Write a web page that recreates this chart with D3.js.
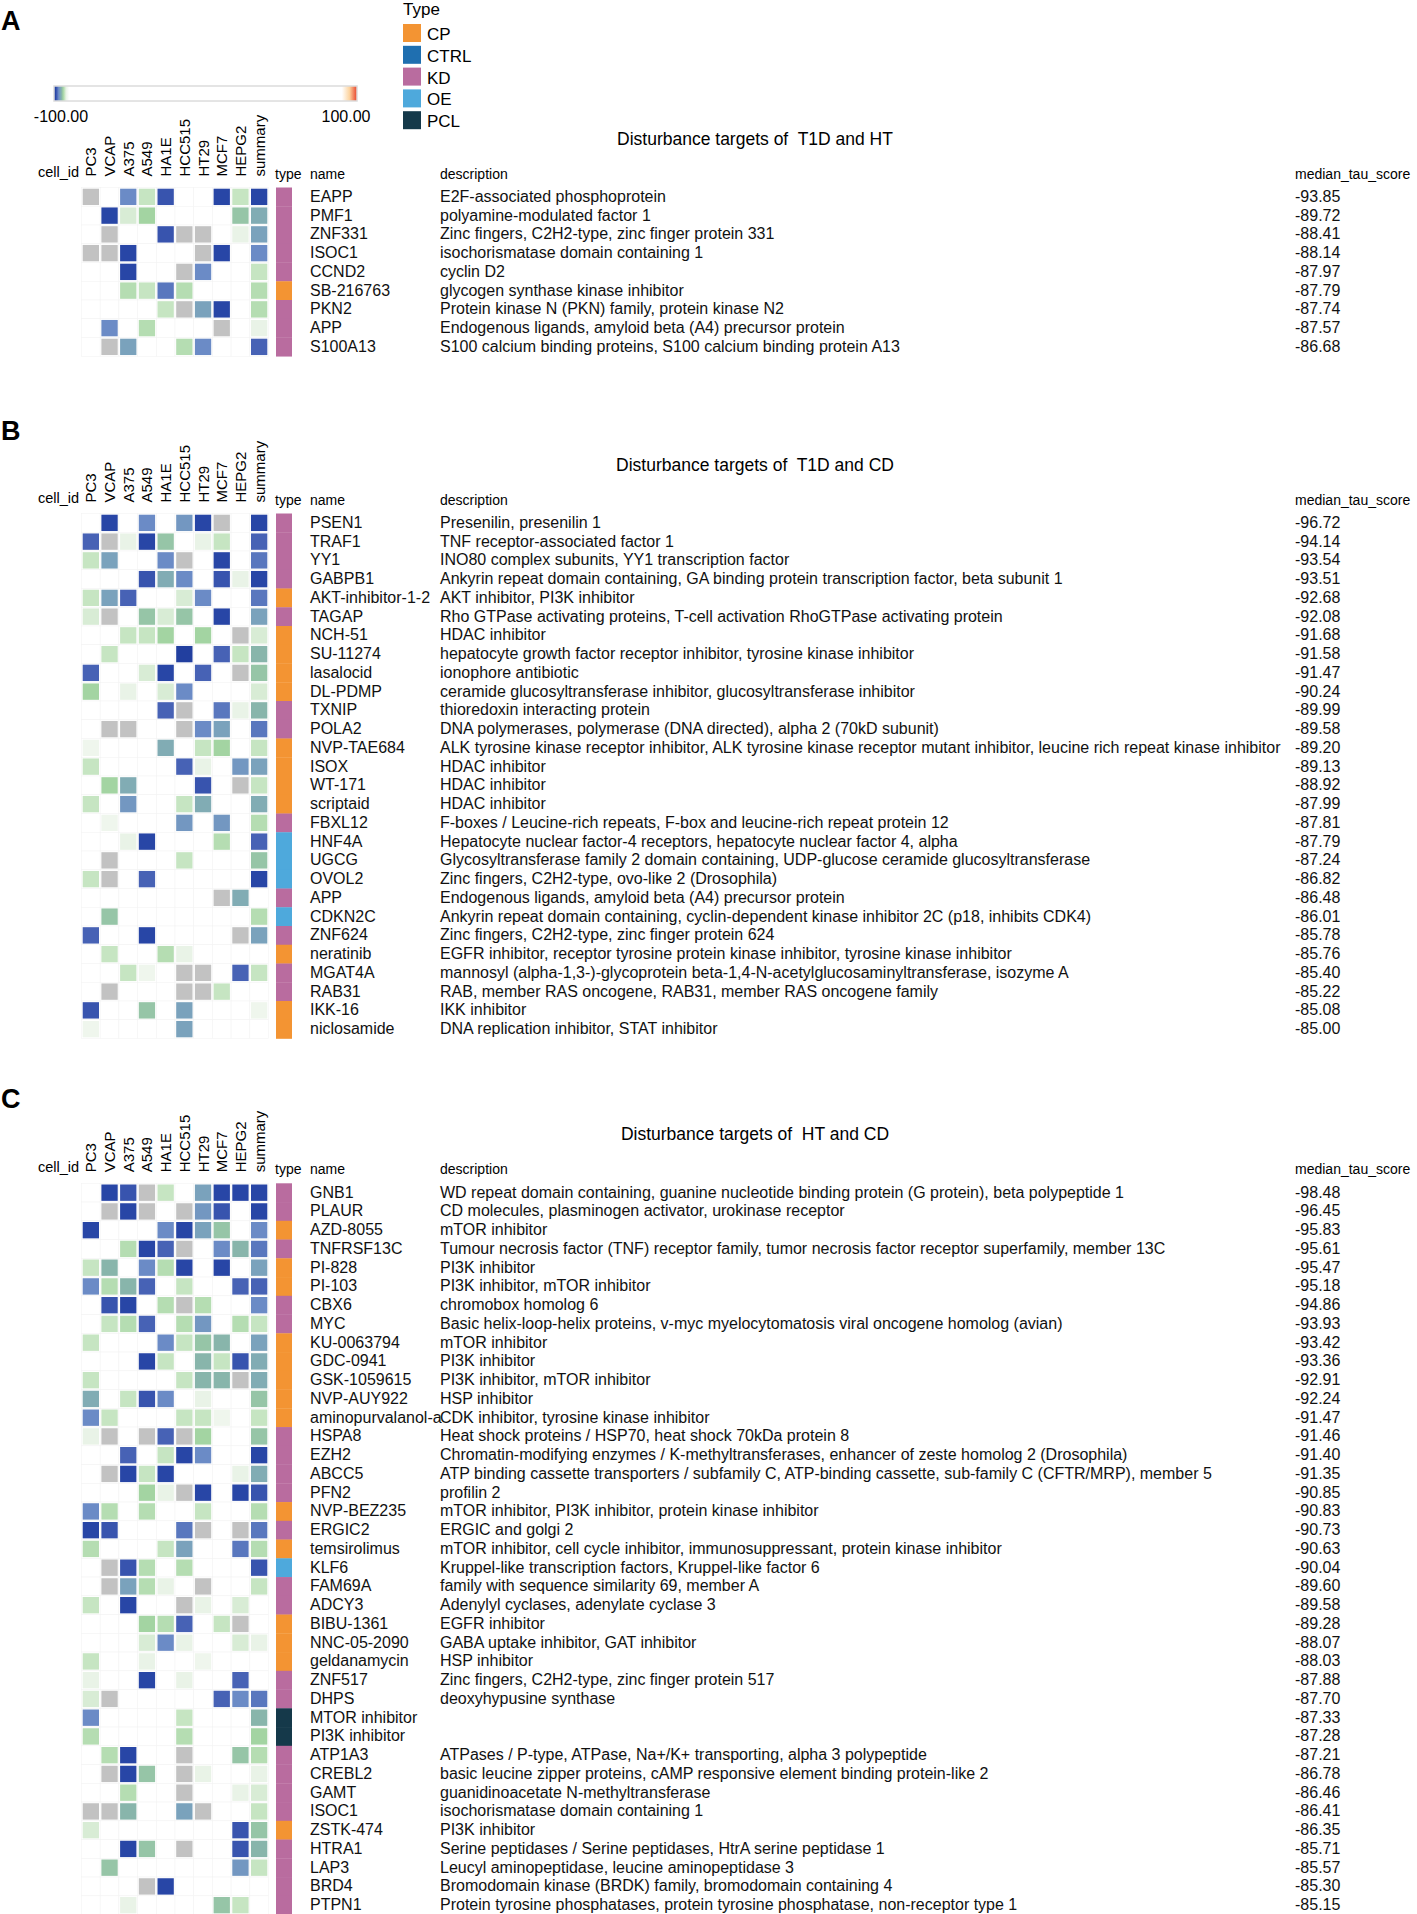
<!DOCTYPE html>
<html lang="en">
<head>
<meta charset="UTF-8">
<title>Disturbance targets</title>
<script src="https://d3js.org/d3.v7.min.js"></script>
<style>
  body { margin: 0; background: #fff; }
  svg { display: block; font-family: Arial, "Liberation Sans", sans-serif; }
  .title { white-space: pre; }
</style>
</head>
<body>
<div id="chart"></div>
<script>
// ---- data ----
const X = NaN;   // grey cell (no score)
const _ = null;  // empty cell

const cellLines = ["PC3", "VCAP", "A375", "A549", "HA1E", "HCC515", "HT29", "MCF7", "HEPG2", "summary"];
const typeNames = ["CP", "CTRL", "KD", "OE", "PCL"];
const typeColors = ["#f39433", "#1f6fb0", "#b96c9f", "#4ea9dc", "#15394a"];
const barTicks = [-100, 100];

// panel A : T1D and HT
const namesA = ["EAPP", "PMF1", "ZNF331", "ISOC1", "CCND2", "SB-216763", "PKN2", "APP", "S100A13"];
const typesA = ["KD", "KD", "KD", "KD", "KD", "CP", "KD", "KD", "KD"];
const descA = [
  "E2F-associated phosphoprotein",
  "polyamine-modulated factor 1",
  "Zinc fingers, C2H2-type, zinc finger protein 331",
  "isochorismatase domain containing 1",
  "cyclin D2",
  "glycogen synthase kinase inhibitor",
  "Protein kinase N (PKN) family, protein kinase N2",
  "Endogenous ligands, amyloid beta (A4) precursor protein",
  "S100 calcium binding proteins, S100 calcium binding protein A13"
];
const scoresA = [-93.85, -89.72, -88.41, -88.14, -87.97, -87.79, -87.74, -87.57, -86.68];
const cellsA = [
  [X, _, -97, -93, -98.5, _, _, -99, -93, -99],
  [_, -99, -92.5, -94, _, _, _, _, -94.5, -95.5],
  [_, X, _, _, -98.5, X, X, _, -92, -96],
  [X, X, -99, _, _, _, X, -99, _, -97],
  [_, _, -99, _, _, X, -97, _, _, -93],
  [_, _, -93.5, -93, -97.5, -93.5, _, _, _, -93.5],
  [_, _, _, _, -93, X, -96, -99, _, -93.5],
  [_, -97, _, -93.5, _, _, _, X, _, -92],
  [_, X, -96, _, _, -93.5, -97, _, _, -98]
];

// panel B : T1D and CD
const namesB = ["PSEN1", "TRAF1", "YY1", "GABPB1", "AKT-inhibitor-1-2", "TAGAP", "NCH-51", "SU-11274", "lasalocid", "DL-PDMP",
  "TXNIP", "POLA2", "NVP-TAE684", "ISOX", "WT-171", "scriptaid", "FBXL12", "HNF4A", "UGCG", "OVOL2",
  "APP", "CDKN2C", "ZNF624", "neratinib", "MGAT4A", "RAB31", "IKK-16", "niclosamide"];
const typesB = ["KD", "KD", "KD", "KD", "CP", "KD", "CP", "CP", "CP", "CP",
  "KD", "KD", "CP", "CP", "CP", "CP", "KD", "OE", "OE", "OE",
  "KD", "OE", "KD", "CP", "KD", "KD", "CP", "CP"];
const descB = [
  "Presenilin, presenilin 1",
  "TNF receptor-associated factor 1",
  "INO80 complex subunits, YY1 transcription factor",
  "Ankyrin repeat domain containing, GA binding protein transcription factor, beta subunit 1",
  "AKT inhibitor, PI3K inhibitor",
  "Rho GTPase activating proteins, T-cell activation RhoGTPase activating protein",
  "HDAC inhibitor",
  "hepatocyte growth factor receptor inhibitor, tyrosine kinase inhibitor",
  "ionophore antibiotic",
  "ceramide glucosyltransferase inhibitor, glucosyltransferase inhibitor",
  "thioredoxin interacting protein",
  "DNA polymerases, polymerase (DNA directed), alpha 2 (70kD subunit)",
  "ALK tyrosine kinase receptor inhibitor, ALK tyrosine kinase receptor mutant inhibitor, leucine rich repeat kinase inhibitor",
  "HDAC inhibitor",
  "HDAC inhibitor",
  "HDAC inhibitor",
  "F-boxes / Leucine-rich repeats, F-box and leucine-rich repeat protein 12",
  "Hepatocyte nuclear factor-4 receptors, hepatocyte nuclear factor 4, alpha",
  "Glycosyltransferase family 2 domain containing, UDP-glucose ceramide glucosyltransferase",
  "Zinc fingers, C2H2-type, ovo-like 2 (Drosophila)",
  "Endogenous ligands, amyloid beta (A4) precursor protein",
  "Ankyrin repeat domain containing, cyclin-dependent kinase inhibitor 2C (p18, inhibits CDK4)",
  "Zinc fingers, C2H2-type, zinc finger protein 624",
  "EGFR inhibitor, receptor tyrosine protein kinase inhibitor, tyrosine kinase inhibitor",
  "mannosyl (alpha-1,3-)-glycoprotein beta-1,4-N-acetylglucosaminyltransferase, isozyme A",
  "RAB, member RAS oncogene, RAB31, member RAS oncogene family",
  "IKK inhibitor",
  "DNA replication inhibitor, STAT inhibitor"
];
const scoresB = [-96.72, -94.14, -93.54, -93.51, -92.68, -92.08, -91.68, -91.58, -91.47, -90.24,
  -89.99, -89.58, -89.20, -89.13, -88.92, -87.99, -87.81, -87.79, -87.24, -86.82,
  -86.48, -86.01, -85.78, -85.76, -85.40, -85.22, -85.08, -85.00];
const cellsB = [
  [_, -99, _, -97, _, -96.5, -99, X, _, -99],
  [-98, X, -92, -99, -94.5, _, -92, -93, _, -98],
  [-93, -96, _, _, -97, X, _, -99, _, -97.5],
  [_, _, _, -98.5, -95.5, -97, _, -98.5, -92, -99],
  [-93, -96, -98, _, _, -92.5, -97, _, _, -97.5],
  [-92.5, X, _, -94.5, -92.5, -94.5, _, -99, _, -96],
  [_, _, -93, -93, -94, _, -94, _, X, -92.5],
  [_, -93, _, _, _, -99.5, _, -98, -93, -95],
  [-98, _, _, -92.5, -99, _, -98, _, X, -94.5],
  [-94, _, -92, _, -92.5, -97, _, _, _, -92.5],
  [_, _, _, _, -98, X, _, -97.5, -92, -95],
  [_, X, X, _, _, X, -97, -96, _, -97.5],
  [-91.5, _, _, _, -95.5, _, -93, -94, _, -93],
  [-93, _, _, _, _, -98, -92, _, -96.5, -96],
  [_, -94, -95.5, _, _, _, -98.5, _, X, -93],
  [-93, _, -96.5, _, _, -93, -95.5, _, _, -95.5],
  [_, -91.5, _, _, _, -96.5, _, -96.5, _, -93.5],
  [_, _, -92, -99, _, _, _, -93.5, _, -98],
  [_, X, _, _, _, -93, _, _, _, -94.5],
  [-93, X, _, -98, _, _, _, _, _, -99],
  [_, _, _, _, _, _, _, X, -95.5, _],
  [_, -94.5, _, _, _, _, _, _, _, -93.5],
  [-98, _, _, -99, _, _, _, _, X, -96],
  [_, -93, _, _, -93.5, -92, _, _, _, _],
  [_, _, -93, -91.5, _, X, X, _, -98, -93],
  [_, X, _, _, _, X, X, -93, _, _],
  [-98.5, _, _, -94.5, _, -96, _, _, _, -91.5],
  [-91.5, _, _, _, _, -96, _, _, _, _]
];

// panel C : HT and CD
const namesC = ["GNB1", "PLAUR", "AZD-8055", "TNFRSF13C", "PI-828", "PI-103", "CBX6", "MYC", "KU-0063794", "GDC-0941",
  "GSK-1059615", "NVP-AUY922", "aminopurvalanol-a", "HSPA8", "EZH2", "ABCC5", "PFN2", "NVP-BEZ235", "ERGIC2", "temsirolimus",
  "KLF6", "FAM69A", "ADCY3", "BIBU-1361", "NNC-05-2090", "geldanamycin", "ZNF517", "DHPS", "MTOR inhibitor", "PI3K inhibitor",
  "ATP1A3", "CREBL2", "GAMT", "ISOC1", "ZSTK-474", "HTRA1", "LAP3", "BRD4", "PTPN1"];
const typesC = ["KD", "KD", "CP", "KD", "CP", "CP", "KD", "KD", "CP", "CP",
  "CP", "CP", "CP", "KD", "KD", "KD", "KD", "CP", "KD", "CP",
  "OE", "KD", "KD", "CP", "CP", "CP", "KD", "KD", "PCL", "PCL",
  "KD", "KD", "KD", "KD", "CP", "KD", "KD", "KD", "KD"];
const descC = [
  "WD repeat domain containing, guanine nucleotide binding protein (G protein), beta polypeptide 1",
  "CD molecules, plasminogen activator, urokinase receptor",
  "mTOR inhibitor",
  "Tumour necrosis factor (TNF) receptor family, tumor necrosis factor receptor superfamily, member 13C",
  "PI3K inhibitor",
  "PI3K inhibitor, mTOR inhibitor",
  "chromobox homolog 6",
  "Basic helix-loop-helix proteins, v-myc myelocytomatosis viral oncogene homolog (avian)",
  "mTOR inhibitor",
  "PI3K inhibitor",
  "PI3K inhibitor, mTOR inhibitor",
  "HSP inhibitor",
  "CDK inhibitor, tyrosine kinase inhibitor",
  "Heat shock proteins / HSP70, heat shock 70kDa protein 8",
  "Chromatin-modifying enzymes / K-methyltransferases, enhancer of zeste homolog 2 (Drosophila)",
  "ATP binding cassette transporters / subfamily C, ATP-binding cassette, sub-family C (CFTR/MRP), member 5",
  "profilin 2",
  "mTOR inhibitor, PI3K inhibitor, protein kinase inhibitor",
  "ERGIC and golgi 2",
  "mTOR inhibitor, cell cycle inhibitor, immunosuppressant, protein kinase inhibitor",
  "Kruppel-like transcription factors, Kruppel-like factor 6",
  "family with sequence similarity 69, member A",
  "Adenylyl cyclases, adenylate cyclase 3",
  "EGFR inhibitor",
  "GABA uptake inhibitor, GAT inhibitor",
  "HSP inhibitor",
  "Zinc fingers, C2H2-type, zinc finger protein 517",
  "deoxyhypusine synthase",
  "",
  "",
  "ATPases / P-type, ATPase, Na+/K+ transporting, alpha 3 polypeptide",
  "basic leucine zipper proteins, cAMP responsive element binding protein-like 2",
  "guanidinoacetate N-methyltransferase",
  "isochorismatase domain containing 1",
  "PI3K inhibitor",
  "Serine peptidases / Serine peptidases, HtrA serine peptidase 1",
  "Leucyl aminopeptidase, leucine aminopeptidase 3",
  "Bromodomain kinase (BRDK) family, bromodomain containing 4",
  "Protein tyrosine phosphatases, protein tyrosine phosphatase, non-receptor type 1"
];
const scoresC = [-98.48, -96.45, -95.83, -95.61, -95.47, -95.18, -94.86, -93.93, -93.42, -93.36,
  -92.91, -92.24, -91.47, -91.46, -91.40, -91.35, -90.85, -90.83, -90.73, -90.63,
  -90.04, -89.60, -89.58, -89.28, -88.07, -88.03, -87.88, -87.70, -87.33, -87.28,
  -87.21, -86.78, -86.46, -86.41, -86.35, -85.71, -85.57, -85.30, -85.15];
const cellsC = [
  [_, -99, -98.5, X, -93, _, -96, -99, -99, -99],
  [_, X, -99, X, _, X, -96.5, -98.5, _, -99],
  [-99, _, _, _, -97, -99, -96, -94.5, _, -97],
  [_, _, -93.5, -99, -98, X, _, -97, -95, -97.5],
  [-93, -95, _, -97, -93.5, -99, _, -99, _, -96],
  [-97, -93.5, -95, -98, _, -93, _, _, -98, -98],
  [_, -98.5, -99, _, -93.5, X, -93.5, _, _, -97],
  [_, -93, -93.5, -98, _, -93.5, -96.5, _, -93.5, -93],
  [-93, _, _, _, -97, -93, -94.5, -95, _, -96],
  [_, _, _, -99, -93, _, -95, -93, -98.5, -95.5],
  [-93, _, _, _, _, -93, -95, -95, X, -95.5],
  [-95.5, _, -93, -98.5, -97, _, -92, _, _, -94.5],
  [-97, -93, _, _, _, -93, -93, -91.5, _, -93],
  [-92, X, _, X, -98, X, -94, _, _, -94.5],
  [_, _, -98, _, -93, -99, -97, _, _, -99],
  [_, X, -99, -93, -99, _, _, _, -92, -95.5],
  [_, _, _, -94, -92, X, -99, _, -99, -98.5],
  [-97, -93.5, _, -93.5, _, _, -93, _, _, -93.5],
  [-99, -98.5, _, _, _, -97.5, X, _, X, -97.5],
  [-93.5, _, _, _, -93, -96, _, _, -97.5, -93.5],
  [_, X, -98.5, -93.5, _, -93.5, _, _, _, -98.5],
  [_, X, -96, -93.5, -92, _, X, _, _, -93],
  [-93, _, -99, _, _, X, -92, _, -92.5, _],
  [_, _, _, -94, -93.5, -98, _, -93, X, _],
  [_, _, _, -92.5, -97, -92, _, _, -92.5, -92],
  [-93, _, _, -92, _, _, -91.5, _, _, _],
  [-92, _, _, -99, _, -92, _, _, -98, _],
  [-92.5, X, _, _, _, _, _, -98, -97, -97.5],
  [-97, _, _, _, _, -93, _, _, _, -95],
  [-93.5, _, _, _, _, -93.5, _, _, _, -94],
  [_, -93.5, -99, _, _, X, _, _, -94.5, -93.5],
  [_, X, -99, -94.5, _, X, -92, _, _, -92],
  [_, _, -93.5, _, _, X, _, _, -92, -92.5],
  [X, X, -95, _, _, -96, X, _, _, -93],
  [-92.5, _, _, _, _, _, _, _, -98.5, -94.5],
  [_, _, -99, -94.5, _, X, _, _, -98.5, -95],
  [_, -94.5, _, _, _, _, _, _, -96.5, -93],
  [_, _, _, X, -99, _, _, _, _, _],
  [_, _, -92, _, _, _, _, -94.5, -93, _]
];

// ---- layout ----
const W = 1417, H = 1914;
const rowH = 18.75;
const nameX = 310, descX = 440, scoreX = 1295;
const typeX = 276, typeW = 16;

const svg = d3.select("#chart").append("svg")
  .attr("width", W)
  .attr("height", H);
svg.append("rect").attr("width", W).attr("height", H).attr("fill", "#fff");

// tau colour scale : blue -> green -> white ... orange -> red
const color = d3.scaleLinear()
  .domain([-100, -99, -98, -97, -96, -95, -94, -93, -92, -90, 90, 95, 100])
  .range(["#1c3897", "#2846a6", "#4762b5", "#6b8bc6", "#7aa2bc", "#88b5ab", "#a3d4a2", "#c6e5c2", "#e9f3e7", "#ffffff", "#ffffff", "#fdd4a0", "#e8412a"])
  .unknown("#c2c2c2");

const typeColor = d3.scaleOrdinal().domain(typeNames).range(typeColors);

const x = d3.scaleBand()
  .domain(cellLines)
  .range([81.5, 81.5 + 18.7 * cellLines.length]);

// ---- colour bar + type legend (panel A only) ----
const barX = d3.scaleLinear().domain([-100, 100]).range([54, 357]);
const grad = svg.append("defs").append("linearGradient").attr("id", "tauGrad");
d3.range(-100, 100.1, 1).forEach(v => {
  grad.append("stop")
    .attr("offset", ((v + 100) / 200 * 100) + "%")
    .attr("stop-color", color(v));
});
svg.append("rect")
  .attr("x", barX(-100)).attr("y", 86)
  .attr("width", barX(100) - barX(-100)).attr("height", 15)
  .attr("fill", "url(#tauGrad)")
  .attr("stroke", "#dcdcdc").attr("stroke-width", 1.5);
svg.selectAll(".barTick").data(barTicks).enter().append("text")
  .attr("x", (d, i) => i === 0 ? barX(d) + 7 : barX(d) - 11)
  .attr("y", 122)
  .attr("text-anchor", "middle")
  .attr("font-size", 16)
  .text(d => d.toFixed(2));

svg.append("text").attr("x", 403).attr("y", 15).attr("font-size", 17).text("Type");
const leg = svg.selectAll(".leg").data(typeNames).enter().append("g")
  .attr("transform", (d, i) => `translate(403,${24 + i * 21.8})`);
leg.append("rect").attr("width", 18).attr("height", 18).attr("fill", d => typeColor(d));
leg.append("text").attr("x", 24).attr("y", 16).attr("font-size", 17).text(d => d);

// ---- panels ----
function drawPanel(letter, letterY, title, top, names, types, descs, scores, cells) {
  const n = names.length;
  const y = d3.scaleBand().domain(d3.range(n)).range([top, top + n * rowH]);
  const g = svg.append("g");

  g.append("text").attr("x", 1).attr("y", letterY)
    .attr("font-size", 27).attr("font-weight", "bold").text(letter);

  g.append("text").attr("class", "title").attr("x", 755).attr("y", top - 43)
    .attr("text-anchor", "middle").attr("font-size", 17.5).text(title);

  // column labels
  g.append("text").attr("x", 79).attr("y", top - 11)
    .attr("text-anchor", "end").attr("font-size", 14.5).text("cell_id");
  g.selectAll(".col").data(cellLines).enter().append("text")
    .attr("transform", d => `translate(${x(d) + x.bandwidth() / 2 + 5.5},${top - 11}) rotate(-90)`)
    .attr("font-size", 15)
    .text(d => d);

  // headers
  [["type", typeX - 1], ["name", nameX], ["description", descX], ["median_tau_score", scoreX]].forEach(h => {
    g.append("text").attr("x", h[1]).attr("y", top - 9)
      .attr("font-size", 14).text(h[0]);
  });

  // heatmap cells
  const rows = g.selectAll(".row").data(cells).enter().append("g")
    .attr("transform", (d, i) => `translate(0,${y(i)})`);
  rows.selectAll(".bg").data(d => d).enter().append("rect")
    .attr("x", (d, j) => x(cellLines[j]))
    .attr("width", x.bandwidth()).attr("height", y.bandwidth())
    .attr("fill", "#fff").attr("stroke", "#f3f3f3").attr("stroke-width", 0.6);
  rows.selectAll(".cell").data(d => d.map((v, j) => ({ v, j })).filter(c => c.v !== null))
    .enter().append("rect")
    .attr("x", c => x(cellLines[c.j]) + 1.2)
    .attr("y", 1.2)
    .attr("width", x.bandwidth() - 2.4).attr("height", y.bandwidth() - 2.4)
    .attr("fill", c => color(c.v));

  // type strip
  g.selectAll(".type").data(types).enter().append("rect")
    .attr("x", typeX).attr("y", (d, i) => y(i))
    .attr("width", typeW).attr("height", y.bandwidth() + 0.3)
    .attr("fill", d => typeColor(d));

  // text columns
  const txt = (arr, xx, f) => g.selectAll(null).data(arr).enter().append("text")
    .attr("x", xx).attr("y", (d, i) => y(i) + y.bandwidth() / 2 + 5)
    .attr("font-size", 16).attr("fill", "#111")
    .text(f);
  txt(names, nameX, d => d);
  txt(descs, descX, d => d);
  txt(scores, scoreX, d => d.toFixed(2));
}

drawPanel("A", 30, "Disturbance targets of  T1D and HT", 187.5, namesA, typesA, descA, scoresA, cellsA);
drawPanel("B", 440, "Disturbance targets of  T1D and CD", 513.5, namesB, typesB, descB, scoresB, cellsB);
drawPanel("C", 1108, "Disturbance targets of  HT and CD", 1183.3, namesC, typesC, descC, scoresC, cellsC);
</script>
</body>
</html>
